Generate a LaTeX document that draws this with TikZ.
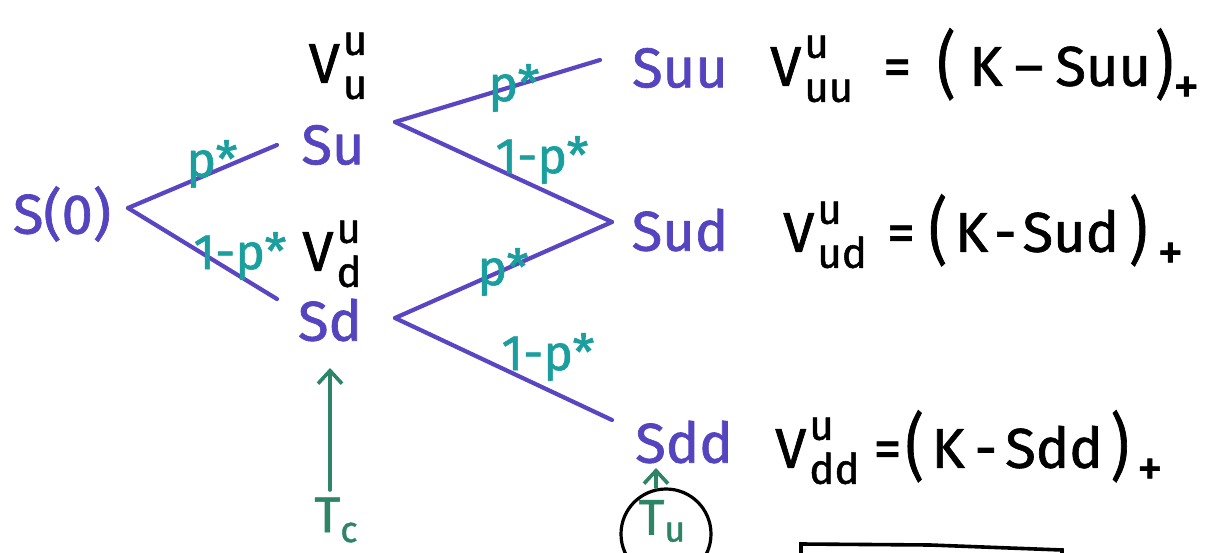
\documentclass[tikz,border=0pt]{standalone}
\usepackage{fontspec}
\usepackage{graphicx}
\setmainfont{Fira Sans}[FakeBold=1.2]
\usetikzlibrary{arrows.meta}
\definecolor{treeline}{HTML}{5A46C2}
\definecolor{stock}{HTML}{5544C0}
\definecolor{prob}{HTML}{1A9E9E}
\definecolor{arrowgreen}{HTML}{2E8566}
\newcommand{\Vlab}[2]{V\kern3pt\raisebox{28pt}{\makebox[0pt][l]{\fontsize{42}{44}\selectfont #1}}\raisebox{-16pt}{\fontsize{42}{44}\selectfont #2}}
\newcommand{\Plus}{\raisebox{-18pt}{\fontsize{52}{54}\selectfont +}}
\newcommand{\Par}[1]{\raisebox{-4pt}{\scalebox{1}[1.3]{#1}}}
\begin{document}
\begin{tikzpicture}[x=1pt,y=-1pt,
  br/.style={draw=treeline, line width=4.2pt, line cap=round, line join=round},
  st/.style={text=stock, font=\fontsize{56}{60}\selectfont, inner sep=0pt},
  pr/.style={text=prob, font=\fontsize{50}{54}\selectfont, inner sep=0pt},
  vt/.style={text=black, font=\fontsize{56}{60}\selectfont, inner sep=0pt},
  tarr/.style={draw=arrowgreen, line width=3.6pt, line cap=round, -{Straight Barb[length=13pt,width=24pt,line width=3.6pt]}},
  tlab/.style={text=arrowgreen, font=\fontsize{50}{54}\selectfont, inner sep=0pt}]
\useasboundingbox (0,0) rectangle (1207,553);
\clip (0,0) rectangle (1207,553);
\fill[white] (0,0) rectangle (1207,553);

% stock nodes
\node[st] (S0) at (62,214) {S(0)};
\node[st] (Su) at (333,145) {Su};
\node[st] (Sd) at (330,320) {Sd};
\node[st] (Suu) at (680,68) {Suu};
\node[st] (Sud) at (680,230) {Sud};
\node[st] (Sdd) at (684,442) {Sdd};

% branch points
\coordinate (r0) at (128,208);
\coordinate (u1) at (277,145);
\coordinate (d1) at (277,299);
\coordinate (u1r) at (395,122);
\coordinate (d1r) at (395,318);
\coordinate (uu) at (600,60);
\coordinate (ud) at (612,222);
\coordinate (dd) at (612,420);

% branches
\draw[br] (r0) -- (u1);
\draw[br] (r0) -- (d1);
\draw[br] (u1r) -- (uu);
\draw[br] (u1r) -- (ud);
\draw[br] (d1r) -- (ud);
\draw[br] (d1r) -- (dd);

% probabilities
\node[pr] (p1) at (212,164) {p*};
\node[pr] (q1) at (240,256) {1-p*};
\node[pr] (p2) at (514,88) {p*};
\node[pr] (q2) at (542,160) {1-p*};
\node[pr] (p3) at (503,272) {p*};
\node[pr] (q3) at (548,357) {1-p*};

% option values
\node[vt] (Vu) at (338,66) {\Vlab{u}{u}};
\node[vt] (Vd) at (332,254) {\Vlab{u}{d}};
\node[vt, anchor=west] (Fuu) at (770,66) {\Vlab{u}{uu}\hspace{30pt}=\hspace{26pt}\Par{(}\hspace{14pt}K\hspace{12pt}–\hspace{12pt}Suu\hspace{4pt}\Par{)}\Plus};
\node[vt, anchor=west] (Fud) at (783,232) {\Vlab{u}{ud}\hspace{20pt}=\hspace{14pt}\Par{(}\hspace{8pt}K\hspace{6pt}-\hspace{6pt}Sud\hspace{10pt}\Par{)}\hspace{10pt}\Plus};
\node[vt, anchor=west] (Fdd) at (775,448) {\Vlab{u}{dd}\hspace{14pt}=\hspace{4pt}\Par{(}\hspace{8pt}K\hspace{10pt}-\hspace{8pt}Sdd\hspace{8pt}\Par{)}\hspace{8pt}\Plus};

% times
\node[tlab] (Tc) at (336,520) {T\raisebox{-10pt}{\fontsize{36}{38}\selectfont c}};
\coordinate (TcTop) at (330,368);
\coordinate (TcBot) at (330,490);
\draw[tarr] (TcBot) -- (TcTop);

\node[tlab] (Tu) at (662,521) {T\raisebox{-7pt}{\fontsize{36}{38}\selectfont u}};
\node[draw=black, line width=3.2pt, circle, minimum size=90pt] (TuC) at (666,534) {};
\coordinate (TuTop) at (656,468);
\draw[tarr] (TuC.north -| TuTop) -- (TuTop);

% box at bottom (cut off)
\draw[black, line width=3.6pt] (801,600) -- (801,544) -- (930,545) -- (1062,550) -- (1062,600);
\end{tikzpicture}
\end{document}
